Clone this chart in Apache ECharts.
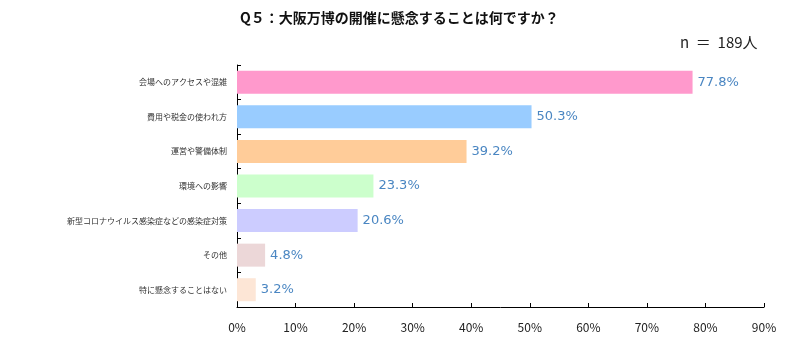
<!DOCTYPE html>
<html>
<head>
<meta charset="utf-8">
<script src="https://cdn.jsdelivr.net/npm/echarts@6/dist/echarts.min.js"></script>
<style>
html,body{margin:0;padding:0;background:#fff;}
#main{width:798px;height:351px;}
</style>
</head>
<body>
<div id="main"></div>
<script>
var categories = ['会場へのアクセスや混雑','費用や税金の使われ方','運営や警備体制','環境への影響','新型コロナウイルス感染症などの感染症対策','その他','特に懸念することはない'];
var values = [77.8, 50.3, 39.2, 23.3, 20.6, 4.8, 3.2];
var colors = ['#ff99cc','#99ccff','#ffcc99','#ccffcc','#ccccff','#ecd7d8','#fde6d6'];
var xTicks = [0,10,20,30,40,50,60,70,80,90];

var myChart = echarts.init(document.getElementById('main'));
var option = {
    animation: false,
    textStyle: { fontFamily: 'Noto Sans CJK JP' },
    graphic: [
        {
            type: 'text', left: 240, top: 11,
            style: { text: 'Q５：大阪万博の開催に懸念することは何ですか？', font: 'bold 14px "Noto Sans CJK JP"', fill: '#111' }
        },
        {
            type: 'text', left: 680, top: 35,
            style: { text: 'n  ＝  189人', font: '15px "Noto Sans CJK JP"', fill: '#222' }
        }
    ],
    grid: { left: 237, right: 34, top: 65, bottom: 44, containLabel: false },
    xAxis: {
        type: 'value', min: 0, max: 90, interval: 10,
        axisLine: { show: true, lineStyle: { color: '#000', width: 1 } },
        axisTick: { show: true, inside: true, length: 4, lineStyle: { color: '#000' } },
        splitLine: { show: false },
        axisLabel: { color: '#222', fontSize: 12, margin: 14, formatter: function (v) { return v + '%'; } }
    },
    yAxis: {
        type: 'category', inverse: true, data: categories,
        axisLine: { show: true, lineStyle: { color: '#000', width: 1 } },
        axisTick: { show: true, inside: true, length: 4, lineStyle: { color: '#000' } },
        axisLabel: { color: '#333', fontSize: 8, margin: 10 }
    },
    series: [{
        type: 'bar',
        barWidth: 23,
        data: values.map(function (v, i) { return { value: v, itemStyle: { color: colors[i] } }; }),
        label: {
            show: true, position: 'right', distance: 5,
            color: '#4a86c2', fontSize: 13, fontFamily: 'DejaVu Sans',
            formatter: function (p) { return p.value.toFixed(1) + '%'; }
        }
    }]
};
myChart.setOption(option);
</script>
</body>
</html>
